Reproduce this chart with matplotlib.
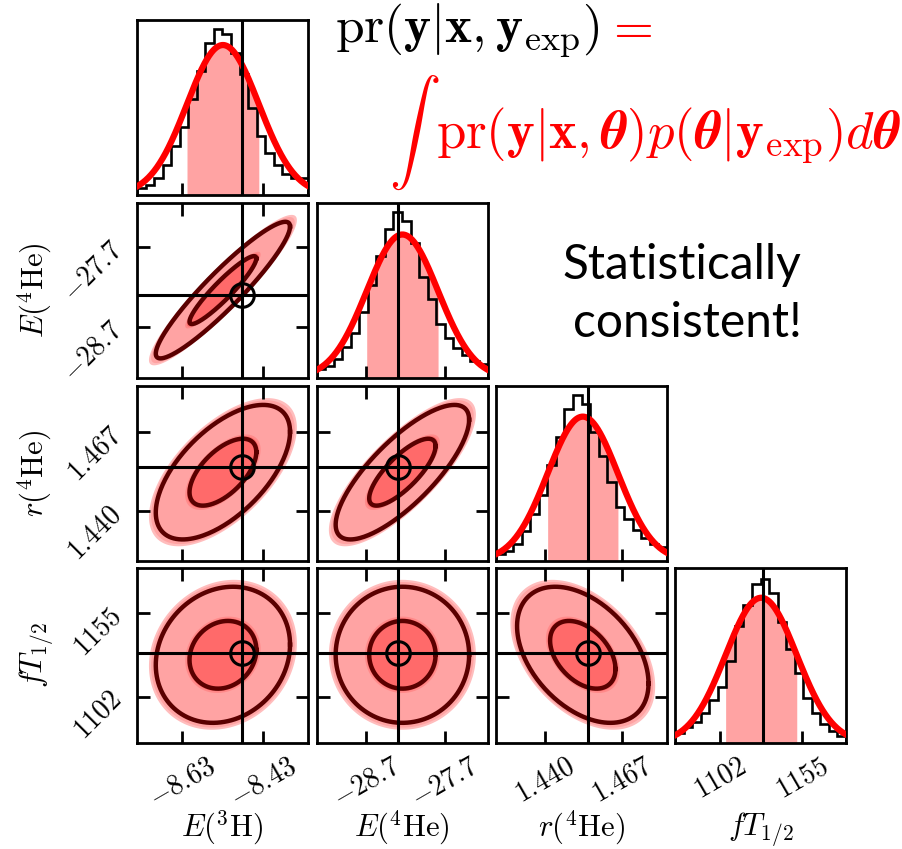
import numpy as np
import matplotlib.pyplot as plt

plt.rcParams['mathtext.fontset'] = 'cm'
plt.rcParams['font.family'] = ['DejaVu Serif']

# observables, true values and posterior-predictive summaries
labels = [r'$E(^3\mathrm{H})$', r'$E(^4\mathrm{He})$', r'$r(^4\mathrm{He})$', r'$fT_{1/2}$']
truth = [-8.482, -28.296, 1.4552, 1129.6]
post_mean = [-8.529, -28.24, 1.4533, 1128.5]
post_std = [0.088, 0.457, 0.01227, 23.1]
peak_height = [0.857, 0.82, 0.825, 0.83]
limits = [(-8.7396, -8.3204), (-29.34, -27.15), (1.423, 1.4827), (1072.5, 1183.6)]
tick_values = [[-8.63, -8.43], [-28.7, -27.7], [1.440, 1.467], [1102, 1155]]
tick_text = [[r'$-8.63$', r'$-8.43$'], [r'$-28.7$', r'$-27.7$'],
             [r'$1.440$', r'$1.467$'], [r'$1102$', r'$1155$']]

# normalised sample histograms, 20 bins over each axis range
hist_e3h = [0.04, 0.06, 0.10, 0.17, 0.28, 0.39, 0.55, 0.71, 0.87, 0.95,
            0.92, 0.81, 0.69, 0.50, 0.34, 0.24, 0.17, 0.12, 0.10, 0.095]
hist_e4he = [0.05, 0.07, 0.11, 0.18, 0.26, 0.38, 0.53, 0.70, 0.85, 0.95,
             0.90, 0.77, 0.58, 0.45, 0.31, 0.23, 0.17, 0.13, 0.10, 0.08]
hist_r4he = [0.04, 0.06, 0.10, 0.17, 0.27, 0.38, 0.55, 0.71, 0.87, 0.95,
             0.90, 0.74, 0.60, 0.45, 0.31, 0.24, 0.18, 0.13, 0.10, 0.08]
hist_ft = [0.06, 0.09, 0.12, 0.17, 0.245, 0.32, 0.47, 0.67, 0.79, 0.91,
           0.94, 0.86, 0.69, 0.54, 0.40, 0.26, 0.17, 0.11, 0.07, 0.04]
histograms = [hist_e3h, hist_e4he, hist_r4he, hist_ft]

# correlation coefficients, keyed by (row, column)
corr = {(1, 0): 0.93, (2, 0): 0.60, (2, 1): 0.78,
        (3, 0): 0.15, (3, 1): 0.0, (3, 2): -0.42}

W, H = 902, 849
col_left = [137, 316.5, 496, 675]
row_top = [20, 203, 386, 568]
pw, ph = 171, 175

fig = plt.figure(figsize=(W / 100, H / 100), dpi=100)


def ellipse(mx, my, sx, sy, rho, r):
    t = np.linspace(0, 2 * np.pi, 240)
    x = mx + r * sx * np.cos(t)
    y = my + r * sy * (rho * np.cos(t) + np.sqrt(1 - rho ** 2) * np.sin(t))
    return x, y


for i in range(4):
    for j in range(i + 1):
        ax = fig.add_axes([col_left[j] / W, 1 - (row_top[i] + ph) / H, pw / W, ph / H])
        for sp in ax.spines.values():
            sp.set_linewidth(2)
        ax.set_xlim(limits[j])
        ax.set_xticks(tick_values[j])

        if i == j:
            lo, hi = limits[i]
            m, s, a = post_mean[i], post_std[i], peak_height[i]
            edges = np.linspace(lo, hi, len(histograms[i]) + 1)
            xs = np.linspace(lo, hi, 300)
            band = np.linspace(m - s, m + s, 100)
            ax.fill_between(band, a * np.exp(-0.5 * ((band - m) / s) ** 2),
                            color='#ffa3a3', lw=0, zorder=1)
            ax.stairs(histograms[i], edges, color='k', lw=1.9, zorder=2)
            ax.plot(xs, a * np.exp(-0.5 * ((xs - m) / s) ** 2), color='red', lw=4.5, zorder=3)
            ax.axvline(truth[i], color='k', lw=2.2, zorder=4)
            ax.set_ylim(0, 1)
            ax.set_yticks([])
            ax.tick_params(axis='x', direction='in', length=9, width=2)
        else:
            ax.set_ylim(limits[i])
            ax.set_yticks(tick_values[i])
            mx, my = post_mean[j], post_mean[i]
            sx, sy = post_std[j], post_std[i]
            rho = corr[(i, j)]
            for r, c in [(2.06, '#ffbdbd'), (2.0, '#ffa3a3'), (1.05, '#ff8a8a'), (1.0, '#ff6a6a')]:
                ax.fill(*ellipse(mx, my, sx, sy, rho, r), color=c, lw=0)
            for r in [0.93, 1.87]:
                ax.plot(*ellipse(mx, my, sx, sy, rho, r), color='#5a0000', lw=3.2)
            ax.axvline(truth[j], color='k', lw=2.2)
            ax.axhline(truth[i], color='k', lw=2.2)
            ax.plot(truth[j], truth[i], 'o', mfc='none', mec='k', ms=17, mew=2.2)
            ax.tick_params(direction='in', length=9, width=2, top=True, right=True)

        if i == 3:
            ax.set_xticklabels(tick_text[j], rotation=30, fontsize=20)
            ax.tick_params(axis='x', pad=7)
        else:
            ax.set_xticklabels([])
        if j == 0 and i > 0:
            ax.set_yticklabels(tick_text[i], rotation=45, fontsize=20)
            ax.tick_params(axis='y', pad=7)
        elif i != j:
            ax.set_yticklabels([])

# axis titles
for k in range(4):
    fig.text((col_left[k] + pw / 2) / W, 1 - 836 / H, labels[k], fontsize=22,
             ha='center', va='baseline')
for k in range(1, 4):
    fig.text(43 / W, 1 - (row_top[k] + ph / 2) / H, labels[k], fontsize=22,
             rotation=90, rotation_mode='anchor', ha='center', va='baseline')

# predictive distribution formula
fig.text(335 / W, 1 - 42 / H, r'$\mathrm{pr}(\mathbf{y}|\mathbf{x},\mathbf{y}_{\mathrm{exp}})$',
         fontsize=37, va='baseline')
fig.text(604 / W, 1 - 42 / H, r'$=$', color='red', fontsize=37, va='baseline')
fig.text(389 / W, 1 - 150 / H, r'$\int$', color='red', fontsize=37, va='baseline')
fig.text(436 / W, 1 - 148 / H,
         r'$\mathrm{pr}(\mathbf{y}|\mathbf{x},\mathbfit{\theta})'
         r'p(\mathbfit{\theta}|\mathbf{y}_{\mathrm{exp}})d\mathbfit{\theta}$',
         color='red', fontsize=38, va='baseline')

fig.text(682 / W, 1 - 279 / H, 'Statistically', family='Lato', fontsize=34.5,
         ha='center', va='baseline')
fig.text(687 / W, 1 - 337 / H, 'consistent!', family='Lato', fontsize=34.5,
         ha='center', va='baseline')

fig.savefig('out.png', dpi=100)
